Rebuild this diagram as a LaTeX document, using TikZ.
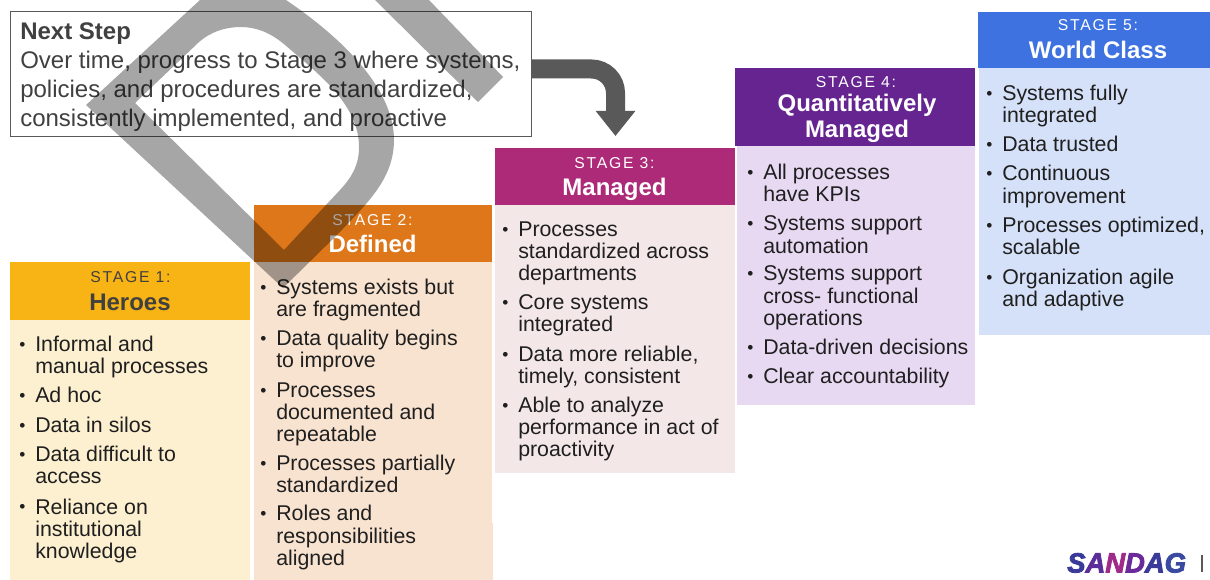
\documentclass[tikz,border=0pt]{standalone}
\usepackage{fontspec}
\setmainfont{Liberation Sans}
\newfontfamily\spaced[LetterSpace=11]{Liberation Sans}
\newfontfamily\logofont[FakeBold=3]{Liberation Sans}
\usetikzlibrary{arrows.meta}
\definecolor{txt}{HTML}{1F1F1F}
\definecolor{grayt}{HTML}{404040}
\definecolor{arrowc}{HTML}{595959}
\definecolor{hA}{HTML}{F8B314}\definecolor{bA}{HTML}{FDF0D0}
\definecolor{hB}{HTML}{DE771A}\definecolor{bB}{HTML}{F8E3D0}
\definecolor{hC}{HTML}{AD2A78}\definecolor{bC}{HTML}{F3E7E8}
\definecolor{hD}{HTML}{662490}\definecolor{bD}{HTML}{E8D9F3}
\definecolor{hE}{HTML}{3E72E0}\definecolor{bE}{HTML}{D5E1F8}
\newcommand{\blk}[7]{% name, x0,y0,x1,y1, colour, unused
  \node[panel,fill=#6,anchor=north west,minimum width={(#4-#2)*0.75pt},minimum height={(#5-#3)*0.75pt}] (#1) at (#2,#3) {};}
\newcommand{\itm}[5]{% name, bullet x, text x, first baseline, lines
  \node[itemtext] (#1b) at (#2,#4) {\raisebox{1pt}{\fontsize{13}{13}\selectfont •}};
  \node[itemtext] (#1) at (#3,#4) {\begin{tabular}[t]{@{}l@{}}#5\end{tabular}};}
\newcommand{\stg}[4]{% name, x, baseline, text, colour via style
  \node[anchor=base,inner sep=0pt,#4,font=\spaced\fontsize{11.8}{13}\selectfont] (#1) at (#2,#3) {\stagename};}
\tikzset{
  panel/.style={inner sep=0pt,outer sep=0pt,draw=none},
  itemtext/.style={anchor=base west,inner sep=0pt,text=txt,font=\fontsize{16}{16.5}\selectfont},
  stagebig/.style={anchor=base,inner sep=0pt,font=\bfseries\fontsize{18}{20}\selectfont},
  nexttext/.style={anchor=base west,inner sep=0pt,text=grayt,font=\fontsize{18}{20}\selectfont},
}
\begin{document}
\begin{tikzpicture}[x=0.75pt,y=-0.75pt]
\useasboundingbox (0,0) rectangle (1210,580);
% panels
\blk{bodyA}{10}{320}{250}{580}{bA}{}
\blk{headA}{10}{262}{250}{320}{hA}{}
\blk{bodyB}{253.5}{262}{492}{523}{bB}{}
\blk{bodyBb}{254}{523}{493}{580}{bB}{}
\blk{headB}{253.5}{205}{492}{262}{hB}{}
\blk{bodyC}{495}{205}{734.5}{473}{bC}{}
\blk{headC}{495}{148}{734.5}{205}{hC}{}
\blk{bodyD}{737}{146}{975}{405}{bD}{}
\blk{headD}{735}{68}{975}{146}{hD}{}
\blk{bodyE}{978.5}{68}{1210}{335}{bE}{}
\blk{headE}{978}{12}{1210}{68}{hE}{}
% next step box
\node[panel,draw=arrowc,line width=0.55pt,anchor=north west,minimum width={521*0.75pt},minimum height={125*0.75pt}] (nextbox) at (10,11) {};
\node[nexttext,font=\bfseries\fontsize{18}{20}\selectfont] (nexthead) at (20,39.2) {Next Step};
\node[nexttext] (nextA) at (20,68.7) {Over time, progress to Stage 3 where systems,};
\node[nexttext] (nextB) at (20,97.6) {policies, and procedures are standardized,};
\node[nexttext] (nextC) at (20,126.5) {consistently implemented, and proactive};
% bent arrow
\coordinate (arrowstart) at (nextbox.east |- 0,69);
\coordinate (arrowend) at (615.5,136);
\draw[arrowc,line width=14.25pt,rounded corners=18pt,-{Triangle[length=18.75pt,width=28.5pt]}]
  (arrowstart) -- (arrowstart -| arrowend) -- (arrowend);
% stage titles
\def\stagename{STAGE 1:}\stg{sA}{130.5}{283}{text=grayt}
\node[stagebig,text=grayt] (tA) at (130,310.8) {Heroes};
\def\stagename{STAGE 2:}\stg{sB}{372.5}{225.5}{text=white}
\node[stagebig,text=white] (tB) at (372.5,252.8) {Defined};
\def\stagename{STAGE 3:}\stg{sC}{614.5}{168.5}{text=white}
\node[stagebig,text=white] (tC) at (614.5,195.8) {Managed};
\def\stagename{STAGE 4:}\stg{sD}{856}{87.5}{text=white}
\node[stagebig,text=white] (tD) at (857,111.8) {Quantitatively};
\node[stagebig,text=white] (tDb) at (857,137.8) {Managed};
\def\stagename{STAGE 5:}\stg{sE}{1098}{31}{text=white}
\node[stagebig,text=white] (tE) at (1098,58.8) {World Class};
% stage 1 items
\itm{aA}{19}{35}{351.5}{Informal and\\manual processes}
\itm{aB}{19}{35}{403}{Ad hoc}
\itm{aC}{19}{35}{432.5}{Data in silos}
\itm{aD}{19}{35}{462}{Data difficult to\\access}
\itm{aE}{19}{35}{514}{Reliance on\\institutional\\knowledge}
% stage 2 items
\itm{bA}{260}{276}{294.5}{Systems exists but\\are fragmented}
\itm{bB}{260}{276}{345.5}{Data quality begins\\to improve}
\itm{bC}{260}{276}{397.5}{Processes\\documented and\\repeatable}
\itm{bD}{260}{276}{470.5}{Processes partially\\standardized}
\itm{bE}{260}{276}{521}{Roles and\\responsibilities\\aligned}
% stage 3 items
\itm{cA}{502}{518}{236.5}{Processes\\standardized across\\departments}
\itm{cB}{502}{518}{309.5}{Core systems\\integrated}
\itm{cC}{502}{518}{361.5}{Data more reliable,\\timely, consistent}
\itm{cD}{502}{518}{412.5}{Able to analyze\\performance in act of\\proactivity}
% stage 4 items
\itm{dA}{747}{763}{179.5}{All processes\\have KPIs}
\itm{dB}{747}{763}{231}{Systems support\\automation}
\itm{dC}{747}{763}{281}{Systems support\\cross- functional\\operations}
\itm{dD}{747}{763}{355}{Data-driven decisions}
\itm{dE}{747}{763}{384}{Clear accountability}
% stage 5 items
\itm{eA}{986}{1002}{100.5}{Systems fully\\integrated}
\itm{eB}{986}{1002}{151.5}{Data trusted}
\itm{eC}{986}{1002}{181}{Continuous\\improvement}
\itm{eD}{986}{1002}{232.5}{Processes optimized,\\scalable}
\itm{eE}{986}{1002}{284.5}{Organization agile\\and adaptive}
% logo
\node[anchor=south west,inner sep=0pt,font=\logofont\bfseries\itshape] (logo) at (1067,573)
  {\resizebox{89pt}{14.5pt}{\textcolor[HTML]{3A3A9A}{S}\textcolor[HTML]{5A2D9A}{A}\textcolor[HTML]{A02A8A}{N}\textcolor[HTML]{6A2A9A}{D}\textcolor[HTML]{3A3A9A}{A}\textcolor[HTML]{3A4AA0}{G}}};
\node[panel,fill=arrowc,anchor=north west,minimum width=1.2pt,minimum height=12.5pt] (logobar) at (1201.3,555) {};
% watermark
\begin{scope}
\clip (0,0) rectangle (1210,580);
\fill[black,opacity=0.35,even odd rule]
  (86,105) -- (200,0) .. controls (225,-18) and (258,-18) .. (286,0)
  .. controls (345,40) and (394,90) .. (394,140)
  .. controls (394,180) and (365,205) .. (339,233) -- (283,288) -- cycle
  (135,103) -- (284,250) -- (340,190)
  .. controls (352,177) and (359,165) .. (359,147)
  .. controls (359,105) and (320,75) .. (285,45)
  .. controls (270,32) and (255,27) .. (241,27)
  .. controls (225,27) and (210,32) .. (198,43) -- cycle
  (375,0) -- (429,0) -- (503,77) -- (478,102) -- cycle;
\end{scope}
\end{tikzpicture}
\end{document}
